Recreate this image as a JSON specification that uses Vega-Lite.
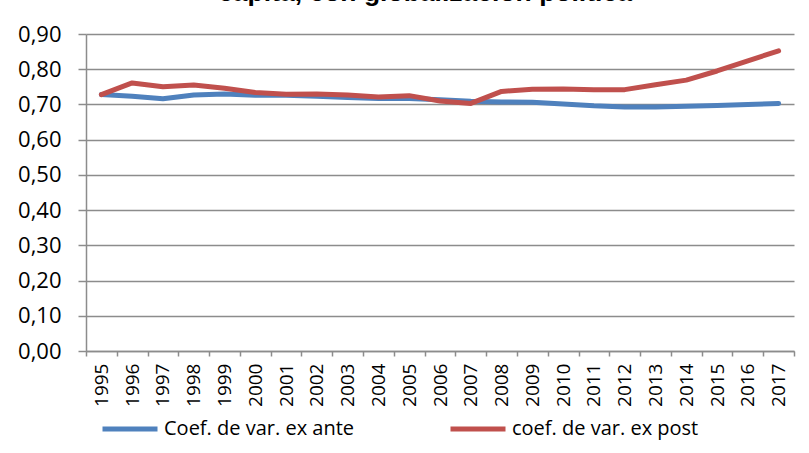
{
  "$schema": "https://vega.github.io/schema/vega-lite/v6.json",
  "autosize": "none",
  "width": 708,
  "height": 317,
  "padding": {"left": 86, "top": 34, "right": 15, "bottom": 102},
  "background": "white",
  "title": {
    "text": "capita, con globalización política",
    "font": "Liberation Sans",
    "fontWeight": "bold",
    "fontSize": 26.5,
    "color": "black",
    "anchor": "middle",
    "baseline": "alphabetic",
    "offset": 2,
    "dy": 6,
    "dx": -15
  },
  "data": {
    "values": [
      {"year": "1995", "serie": "Coef. de var. ex ante", "value": 0.728},
      {"year": "1996", "serie": "Coef. de var. ex ante", "value": 0.723},
      {"year": "1997", "serie": "Coef. de var. ex ante", "value": 0.716},
      {"year": "1998", "serie": "Coef. de var. ex ante", "value": 0.727},
      {"year": "1999", "serie": "Coef. de var. ex ante", "value": 0.730},
      {"year": "2000", "serie": "Coef. de var. ex ante", "value": 0.726},
      {"year": "2001", "serie": "Coef. de var. ex ante", "value": 0.726},
      {"year": "2002", "serie": "Coef. de var. ex ante", "value": 0.723},
      {"year": "2003", "serie": "Coef. de var. ex ante", "value": 0.720},
      {"year": "2004", "serie": "Coef. de var. ex ante", "value": 0.717},
      {"year": "2005", "serie": "Coef. de var. ex ante", "value": 0.717},
      {"year": "2006", "serie": "Coef. de var. ex ante", "value": 0.713},
      {"year": "2007", "serie": "Coef. de var. ex ante", "value": 0.709},
      {"year": "2008", "serie": "Coef. de var. ex ante", "value": 0.707},
      {"year": "2009", "serie": "Coef. de var. ex ante", "value": 0.706},
      {"year": "2010", "serie": "Coef. de var. ex ante", "value": 0.701},
      {"year": "2011", "serie": "Coef. de var. ex ante", "value": 0.696},
      {"year": "2012", "serie": "Coef. de var. ex ante", "value": 0.693},
      {"year": "2013", "serie": "Coef. de var. ex ante", "value": 0.693},
      {"year": "2014", "serie": "Coef. de var. ex ante", "value": 0.695},
      {"year": "2015", "serie": "Coef. de var. ex ante", "value": 0.697},
      {"year": "2016", "serie": "Coef. de var. ex ante", "value": 0.700},
      {"year": "2017", "serie": "Coef. de var. ex ante", "value": 0.703},
      {"year": "1995", "serie": "coef. de var. ex post", "value": 0.728},
      {"year": "1996", "serie": "coef. de var. ex post", "value": 0.761},
      {"year": "1997", "serie": "coef. de var. ex post", "value": 0.750},
      {"year": "1998", "serie": "coef. de var. ex post", "value": 0.755},
      {"year": "1999", "serie": "coef. de var. ex post", "value": 0.746},
      {"year": "2000", "serie": "coef. de var. ex post", "value": 0.734},
      {"year": "2001", "serie": "coef. de var. ex post", "value": 0.729},
      {"year": "2002", "serie": "coef. de var. ex post", "value": 0.730},
      {"year": "2003", "serie": "coef. de var. ex post", "value": 0.727},
      {"year": "2004", "serie": "coef. de var. ex post", "value": 0.721},
      {"year": "2005", "serie": "coef. de var. ex post", "value": 0.725},
      {"year": "2006", "serie": "coef. de var. ex post", "value": 0.710},
      {"year": "2007", "serie": "coef. de var. ex post", "value": 0.703},
      {"year": "2008", "serie": "coef. de var. ex post", "value": 0.737},
      {"year": "2009", "serie": "coef. de var. ex post", "value": 0.743},
      {"year": "2010", "serie": "coef. de var. ex post", "value": 0.744},
      {"year": "2011", "serie": "coef. de var. ex post", "value": 0.742},
      {"year": "2012", "serie": "coef. de var. ex post", "value": 0.742},
      {"year": "2013", "serie": "coef. de var. ex post", "value": 0.756},
      {"year": "2014", "serie": "coef. de var. ex post", "value": 0.769},
      {"year": "2015", "serie": "coef. de var. ex post", "value": 0.795},
      {"year": "2016", "serie": "coef. de var. ex post", "value": 0.824},
      {"year": "2017", "serie": "coef. de var. ex post", "value": 0.852}
    ]
  },
  "mark": {"type": "line", "strokeWidth": 5, "strokeCap": "round", "strokeJoin": "round"},
  "encoding": {
    "x": {
      "field": "year",
      "type": "ordinal",
      "bandPosition": 0.5,
      "scale": {"type": "band", "paddingInner": 0, "paddingOuter": 0},
      "axis": {
        "title": null,
        "labelAngle": -90,
        "labelFont": "Open Sans",
        "labelFontSize": 19,
        "labelColor": "black",
        "labelPadding": 7,
        "tickBand": "extent",
        "tickSize": 5,
        "tickColor": "#8C8C8C",
        "tickWidth": 1.5,
        "domainColor": "#8C8C8C",
        "domainWidth": 1.5,
        "grid": false
      }
    },
    "y": {
      "field": "value",
      "type": "quantitative",
      "scale": {"domain": [0, 0.9], "nice": false},
      "axis": {
        "title": null,
        "values": [0, 0.1, 0.2, 0.3, 0.4, 0.5, 0.6, 0.7, 0.8, 0.9],
        "labelExpr": "replace(format(datum.value, '.2f'), '.', ',')",
        "labelFont": "Open Sans",
        "labelFontSize": 22,
        "labelColor": "black",
        "labelPadding": 17,
        "tickSize": 8,
        "tickColor": "#8C8C8C",
        "tickWidth": 1.5,
        "domainColor": "#8C8C8C",
        "domainWidth": 1.5,
        "grid": true,
        "gridColor": "#8C8C8C",
        "gridWidth": 1.5
      }
    },
    "color": {
      "field": "serie",
      "type": "nominal",
      "scale": {
        "domain": ["Coef. de var. ex ante", "coef. de var. ex post"],
        "range": ["#4F81BD", "#C0504D"]
      },
      "legend": {
        "title": null,
        "orient": "none",
        "legendX": 14,
        "legendY": 365,
        "direction": "horizontal",
        "columns": 2,
        "columnPadding": 85,
        "symbolType": "stroke",
        "symbolSize": 3025,
        "symbolStrokeWidth": 5,
        "labelFont": "Open Sans",
        "labelFontSize": 20,
        "labelColor": "black",
        "labelOffset": 4,
        "labelLimit": 400
      }
    }
  },
  "config": {"view": {"stroke": null}}
}
